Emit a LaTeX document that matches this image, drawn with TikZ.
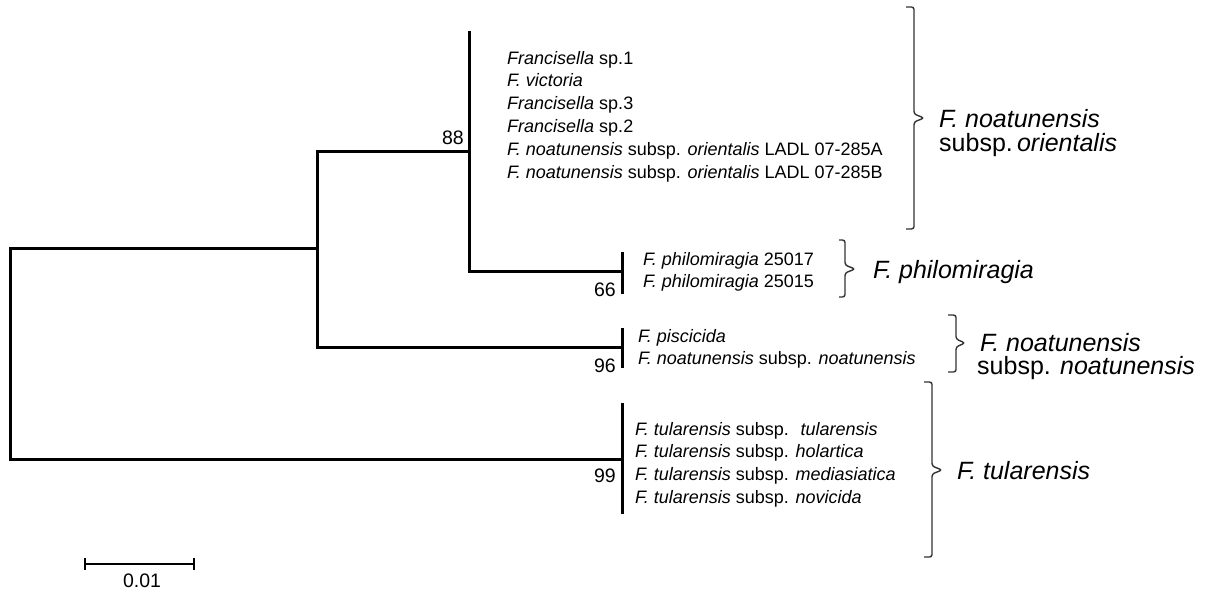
\documentclass[tikz,border=0pt]{standalone}
\usepackage{fontspec}
\setmainfont{Liberation Sans}
\begin{document}
\begin{tikzpicture}[x=1pt,y=-1pt,
  tree/.style={line width=3pt, line join=miter, black},
  brace/.style={line width=1.4pt, draw=black!80, rounded corners=2.5pt},
  leaf/.style={anchor=base west, inner sep=0pt, font=\fontsize{18}{21}\selectfont},
  big/.style={anchor=base west, inner sep=0pt, font=\fontsize{25}{29}\selectfont},
  boot/.style={anchor=base east, inner sep=0pt, font=\fontsize{19.5}{22}\selectfont}]
\useasboundingbox (0,0) rectangle (1209,591);
% tree coordinates
\coordinate (rt) at (10,248);
\coordinate (rb) at (10,459);
\coordinate (n2m) at (317,248);
\coordinate (n2t) at (317,151);
\coordinate (n2b) at (317,347);
\coordinate (n88) at (469,151);
\coordinate (g1t) at (469,31);
\coordinate (g1b) at (469,271);
\coordinate (c66) at (622,271);
\coordinate (c66t) at (622,252);
\coordinate (c66b) at (622,294);
\coordinate (c96) at (622,347);
\coordinate (c96t) at (622,328);
\coordinate (c96b) at (622,368);
\coordinate (c99) at (622,459);
\coordinate (c99t) at (622,403);
\coordinate (c99b) at (622,514);
% branches
\draw[tree] (n2m) -- (rt) -- (rb) -- (c99);
\draw[tree] (n88) -- (n2t) -- (n2b) -- (c96);
\draw[tree] (g1t) -- (g1b) -- (c66);
\draw[tree] (c66t) -- (c66b);
\draw[tree] (c96t) -- (c96b);
\draw[tree] (c99t) -- (c99b);
% bootstrap values
\node[boot] (b88) at (464,144) {88};
\node[boot] (b66) at (616,296) {66};
\node[boot] (b96) at (616,372) {96};
\node[boot] (b99) at (616,482) {99};
% leaves group 1
\node[leaf] (l1) at (507,65) {\textit{Francisella} sp.1};
\node[leaf] (l2) at (507,87) {\textit{F. victoria}};
\node[leaf] (l3) at (507,110) {\textit{Francisella} sp.3};
\node[leaf] (l4) at (507,132) {\textit{Francisella} sp.2};
\node[leaf] (l5) at (507,155) {\textit{F. noatunensis} subsp. \textit{orientalis} LADL 07-285A};
\node[leaf] (l6) at (507,178) {\textit{F. noatunensis} subsp. \textit{orientalis} LADL 07-285B};
% philomiragia
\node[leaf] (p1) at (643,265) {\textit{F. philomiragia} 25017};
\node[leaf] (p2) at (643,287) {\textit{F. philomiragia} 25015};
% piscicida
\node[leaf] (q1) at (638,342) {\textit{F. piscicida}};
\node[leaf] (q2) at (638,364) {\textit{F. noatunensis} subsp. \textit{noatunensis}};
% tularensis
\node[leaf] (t1) at (635,435) {\textit{F. tularensis} subsp. \ \textit{tularensis}};
\node[leaf] (t2) at (635,457) {\textit{F. tularensis} subsp. \textit{holartica}};
\node[leaf] (t3) at (635,480) {\textit{F. tularensis} subsp. \textit{mediasiatica}};
\node[leaf] (t4) at (635,503) {\textit{F. tularensis} subsp. \textit{novicida}};
% braces
\draw[brace] (906,7) -- (914,7) -- (914,114) -- (924,118) -- (914,122) -- (914,229) -- (906,229);
\draw[brace] (839,240) -- (845,240) -- (845,265) -- (855,269) -- (845,273) -- (845,297) -- (839,297);
\draw[brace] (948,315) -- (956,315) -- (956,339) -- (965,343) -- (956,347) -- (956,372) -- (948,372);
\draw[brace] (924,382) -- (932,382) -- (932,466) -- (942,470) -- (932,474) -- (932,557) -- (924,557);
% group labels
\node[big] (g1a) at (939,128) {\textit{F. noatunensis}};
\node[big] (g1c) at (939,151) {subsp.\,\textit{orientalis}};
\node[big] (g2) at (873,278) {\textit{F. philomiragia}};
\node[big] (g3a) at (980,351) {\textit{F. noatunensis}};
\node[big] (g3c) at (977,374) {subsp. \textit{noatunensis}};
\node[big] (g4) at (957,479) {\textit{F. tularensis}};
% scale bar
\coordinate (sa) at (85,564);
\coordinate (sb) at (194,564);
\draw[line width=2.2pt] (sa) -- (sb);
\draw[line width=2.2pt] ([yshift=-6pt]sa) -- ([yshift=6pt]sa);
\draw[line width=2.2pt] ([yshift=-6pt]sb) -- ([yshift=6pt]sb);
\node[anchor=base, inner sep=0pt, font=\fontsize{19.5}{22}\selectfont] (sl) at (142,587) {0.01};
\end{tikzpicture}
\end{document}
